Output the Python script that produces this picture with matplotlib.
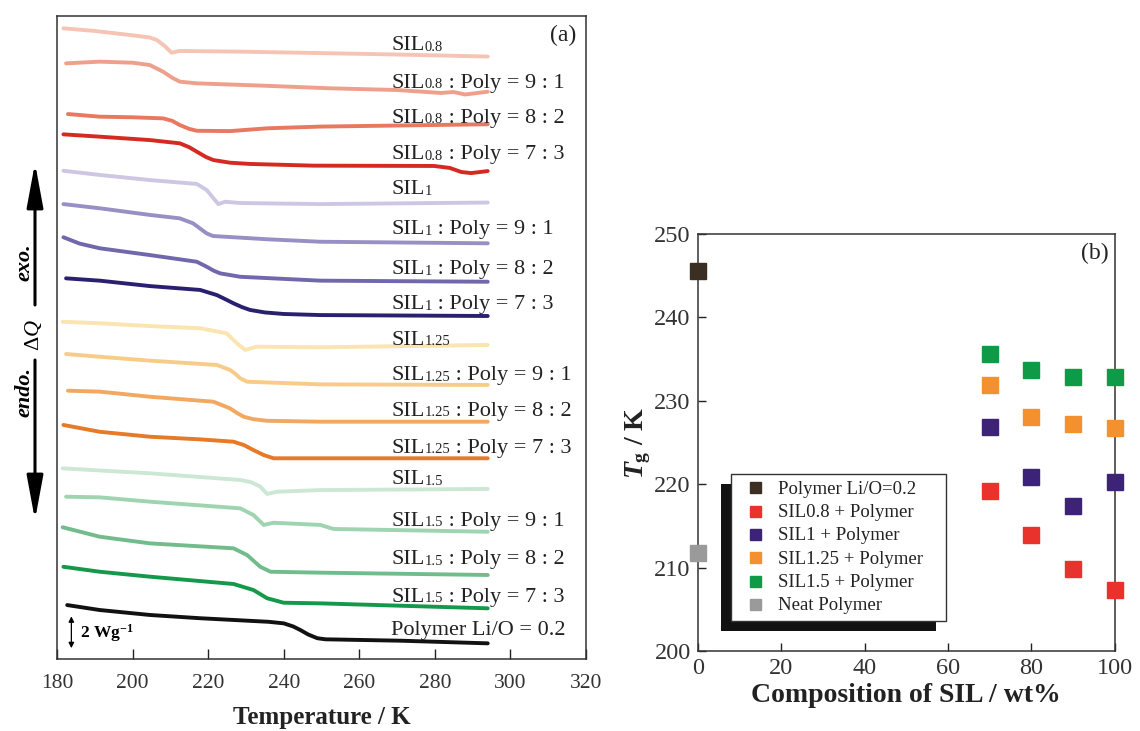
import numpy as np
import matplotlib
matplotlib.use('Agg')
import matplotlib.pyplot as plt
from matplotlib.patches import Rectangle
from matplotlib.transforms import IdentityTransform

plt.rcParams['font.family'] = ['Liberation Serif', 'DejaVu Serif']
plt.rcParams['mathtext.fontset'] = 'custom'
plt.rcParams['mathtext.rm'] = 'Liberation Serif'
plt.rcParams['mathtext.it'] = 'Liberation Serif:italic:bold'
plt.rcParams['mathtext.bf'] = 'Liberation Serif:bold'
plt.rcParams['mathtext.sf'] = 'Liberation Serif:italic'

# ---- panel (a): DSC traces, temperature / K vs stacked heat flow / W g-1 ----
t_s08 = [181.7, 190, 199.3, 204.5, 206.4, 208.5, 210.3, 212.5, 230, 252.4, 270, 294]
q_s08 = [40.69, 40.52, 40.26, 40.10, 39.94, 39.55, 39.12, 39.23, 39.18, 39.08, 39.00, 38.87]
t_s08_91 = [182.4, 191.3, 200.1, 204.6, 208.1, 210.5, 212.5, 217.0, 234.6, 252.4, 270, 281.6, 285, 288, 294]
q_s08_91 = [38.43, 38.54, 38.47, 38.32, 37.89, 37.50, 37.25, 37.14, 36.99, 36.82, 36.71, 36.52, 36.58, 36.42, 36.60]
t_s08_82 = [182.9, 191.3, 200.1, 208.1, 210.5, 212.5, 215.0, 217.0, 225.8, 235.7, 249.7, 294]
q_s08_82 = [35.16, 34.99, 34.95, 34.88, 34.72, 34.45, 34.20, 34.08, 34.06, 34.24, 34.35, 34.50]
t_s08_73 = [181.7, 191.3, 204.6, 212.5, 215.0, 217.0, 219.5, 221.4, 225.8, 231.1, 247.9, 279.8, 284, 287, 289.6, 294]
q_s08_73 = [33.85, 33.70, 33.48, 33.27, 33.02, 32.73, 32.38, 32.19, 32.02, 31.94, 31.83, 31.81, 31.68, 31.42, 31.35, 31.48]

t_s1 = [181.7, 191.3, 204.6, 217.0, 219.6, 222.7, 224.5, 228.5, 249.7, 294]
q_s1 = [31.50, 31.23, 30.90, 30.65, 30.26, 29.35, 29.50, 29.42, 29.35, 29.45]
t_s1_91 = [181.7, 191.3, 204.6, 212.5, 216.0, 218.0, 219.6, 221.3, 235.7, 249.7, 294]
q_s1_91 = [29.35, 29.08, 28.65, 28.43, 28.11, 27.75, 27.46, 27.29, 27.08, 26.92, 26.82]
t_s1_82 = [181.7, 186.0, 191.3, 204.6, 217.0, 219.6, 221.5, 223.2, 228.5, 249.7, 294]
q_s1_82 = [27.21, 26.80, 26.50, 26.06, 25.63, 25.31, 25.05, 24.88, 24.66, 24.41, 24.34]
t_s1_73 = [182.4, 191.3, 204.6, 217.9, 222.3, 224.5, 226.7, 229.0, 231.1, 235.0, 240.0, 249.7, 294]
q_s1_73 = [24.56, 24.41, 24.06, 23.81, 23.48, 23.22, 22.95, 22.70, 22.52, 22.36, 22.26, 22.19, 22.13]

t_s125 = [181.5, 191.3, 204.6, 217.9, 224.9, 227.6, 229.8, 232.9, 249.7, 294]
q_s125 = [21.76, 21.66, 21.48, 21.34, 21.01, 20.37, 19.94, 20.15, 20.11, 20.26]
t_s125_91 = [182.4, 191.3, 204.6, 222.3, 225.8, 227.2, 228.5, 230.3, 249.7, 294]
q_s125_91 = [19.68, 19.50, 19.25, 18.97, 18.65, 18.40, 18.11, 17.89, 17.72, 17.68]
t_s125_82 = [182.9, 191.3, 204.6, 221.4, 225.8, 227.6, 229.4, 232.0, 235.6, 249.7, 294]
q_s125_82 = [17.31, 17.25, 16.92, 16.60, 16.17, 15.88, 15.63, 15.47, 15.37, 15.31, 15.31]
t_s125_73 = [181.7, 191.3, 204.6, 217.9, 226.7, 229.5, 232.0, 234.8, 237.3, 249.7, 294]
q_s125_73 = [15.10, 14.66, 14.34, 14.17, 14.02, 13.80, 13.48, 13.15, 12.95, 12.95, 12.95]

t_s15 = [181.5, 204.6, 228.5, 231.5, 233.8, 235.6, 238.2, 249.7, 294]
q_s15 = [12.30, 11.98, 11.55, 11.40, 11.12, 10.65, 10.79, 10.90, 10.97]
t_s15_91 = [182.4, 191.3, 204.6, 228.5, 232.0, 234.7, 237.3, 249.7, 253.2, 294]
q_s15_91 = [10.47, 10.43, 10.15, 9.72, 9.29, 8.65, 8.79, 8.65, 8.39, 8.21]
t_s15_82 = [181.5, 191.3, 204.6, 226.7, 230.3, 233.8, 236.5, 249.7, 294]
q_s15_82 = [8.50, 7.89, 7.46, 7.14, 6.71, 5.95, 5.63, 5.57, 5.42]
t_s15_73 = [181.7, 191.3, 204.6, 226.7, 232.0, 235.6, 240.0, 249.7, 294]
q_s15_73 = [5.95, 5.63, 5.31, 4.84, 4.45, 3.92, 3.63, 3.59, 3.27]

t_poly = [182.7, 191.3, 204.6, 217.9, 236.0, 240.0, 242.5, 244.4, 246.5, 248.9, 251.1, 271.0, 294]
q_poly = [3.48, 3.16, 2.84, 2.63, 2.40, 2.30, 2.10, 1.87, 1.58, 1.34, 1.27, 1.18, 1.01]

curves = [(t_s08, q_s08), (t_s08_91, q_s08_91), (t_s08_82, q_s08_82), (t_s08_73, q_s08_73),
          (t_s1, q_s1), (t_s1_91, q_s1_91), (t_s1_82, q_s1_82), (t_s1_73, q_s1_73),
          (t_s125, q_s125), (t_s125_91, q_s125_91), (t_s125_82, q_s125_82), (t_s125_73, q_s125_73),
          (t_s15, q_s15), (t_s15_91, q_s15_91), (t_s15_82, q_s15_82), (t_s15_73, q_s15_73),
          (t_poly, q_poly)]
colors_a = ['#f5c4b4', '#eea08c', '#e87860', '#d42a22',
            '#cdc7e3', '#9890c4', '#7068ac', '#2a2070',
            '#fae4b0', '#f8cc88', '#f2a860', '#e67a28',
            '#cce8d4', '#9ed4b0', '#72bc8c', '#14984a',
            '#111111']
sil_sub = ['0.8'] * 4 + ['1'] * 4 + ['1.25'] * 4 + ['1.5'] * 4
ratios = ['', ' : Poly = 9 : 1', ' : Poly = 8 : 2', ' : Poly = 7 : 3'] * 4
label_y = [39.26, 36.87, 34.61, 32.23, 29.97, 27.39, 24.81, 22.55, 20.29,
           17.97, 15.71, 13.32, 11.26, 8.61, 6.10, 3.65, 1.52]

# ---- panel (b): Tg vs composition ----
comp = [70, 80, 90, 100]
tg_sil08 = [219.2, 213.9, 209.8, 207.3]
tg_sil1 = [226.9, 220.9, 217.4, 220.3]
tg_sil125 = [231.9, 228.0, 227.2, 226.7]
tg_sil15 = [235.6, 233.7, 232.8, 232.8]
tg_polymer = 245.6
tg_neat = 211.8

fig = plt.figure(figsize=(11.4, 7.31), dpi=100)
ax1 = fig.add_axes([0.050, 0.0985, 0.464, 0.8795])
ax2 = fig.add_axes([0.612, 0.1094, 0.366, 0.5706])

txt = '#222222'
for (t, q), c in zip(curves, colors_a):
    ax1.plot(t, q, color=c, lw=2.8, solid_capstyle='round', solid_joinstyle='round')

xl = 268.5
for y, sub, rest in zip(label_y, sil_sub, ratios):
    t1 = ax1.text(xl, y, 'SIL', fontsize=16, va='baseline', color=txt)
    t2 = ax1.annotate(sub, xy=(1, 0), xycoords=t1, xytext=(0, 1.4), textcoords='offset points',
                      fontsize=10.5, va='bottom', color=txt)
    if rest:
        ax1.annotate(rest, xy=(1, 0), xycoords=t2, xytext=(0, -1.4), textcoords='offset points',
                     fontsize=16, va='bottom', color=txt)
ax1.text(xl, label_y[-1], 'Polymer Li/O = 0.2', fontsize=16, va='baseline', color=txt)

ax1.annotate('', xy=(183.8, 0.7), xytext=(183.8, 2.75),
             arrowprops=dict(arrowstyle='<|-|>', lw=0.9, color='k', mutation_scale=8,
                             shrinkA=0, shrinkB=0))
ax1.text(186.2, 1.65, r'2 Wg$^{\mathbf{-1}}$', fontsize=12.5, fontweight='bold', va='center')
ax1.text(0.957, 0.970, '(a)', transform=ax1.transAxes, fontsize=17, ha='center', va='center',
         color=txt)

ax1.set_xlim(180, 320)
ax1.set_ylim(0, 41.48)
ax1.set_xticks(np.arange(180, 321, 20))
ax1.tick_params(axis='x', direction='in', length=7, width=1, labelsize=15.5, pad=11, top=False,
                colors='#222', labelcolor='#333')
ax1.tick_params(axis='y', left=False, labelleft=False)
ax1.set_xlabel('Temperature / K', fontsize=18, fontweight='bold', labelpad=9.5, color='#222')
for s in ax1.spines.values():
    s.set_linewidth(1.1)
    s.set_color('#333')

# exo / endo arrows at the left edge
ax1.annotate('', xy=(35, 731 - 163), xytext=(35, 731 - 305), xycoords='figure pixels',
             textcoords='figure pixels', annotation_clip=False,
             arrowprops=dict(arrowstyle='-|>,head_length=2.7,head_width=0.5', lw=2.2, color='k',
                             mutation_scale=10, shrinkA=0, shrinkB=0))
ax1.annotate('', xy=(35, 731 - 520), xytext=(35, 731 - 360), xycoords='figure pixels',
             textcoords='figure pixels', annotation_clip=False,
             arrowprops=dict(arrowstyle='-|>,head_length=2.7,head_width=0.5', lw=2.2, color='k',
                             mutation_scale=10, shrinkA=0, shrinkB=0))
fig.text(24 / 1140, 1 - 262 / 731, 'exo.', rotation=90, fontsize=16, style='italic',
         fontweight='bold', ha='center', va='center')
fig.text(24 / 1140, 1 - 392 / 731, 'endo.', rotation=90, fontsize=16, style='italic',
         fontweight='bold', ha='center', va='center')
fig.text(34 / 1140, 1 - 335 / 731, r'$\Delta\mathsf{Q}$', rotation=90, fontsize=16,
         ha='center', va='center')

# ---- panel (b) ----
ax2.patch.set_facecolor('none')
ms = 11
ax2.plot([0], [tg_polymer], 's', color='#3b2f24', ms=ms, label='Polymer Li/O=0.2', clip_on=False, zorder=3)
ax2.plot(comp, tg_sil08, 's', color='#e8322b', ms=ms, label='SIL0.8 + Polymer', clip_on=False, zorder=3)
ax2.plot(comp, tg_sil1, 's', color='#3c2378', ms=ms, label='SIL1 + Polymer', clip_on=False, zorder=3)
ax2.plot(comp, tg_sil125, 's', color='#f39130', ms=ms, label='SIL1.25 + Polymer', clip_on=False, zorder=3)
ax2.plot(comp, tg_sil15, 's', color='#0e9a46', ms=ms, label='SIL1.5 + Polymer', clip_on=False, zorder=3)
ax2.plot([0], [tg_neat], 's', color='#9a9a9a', ms=ms, label='Neat Polymer', clip_on=False, zorder=3)

ax2.set_xlim(0, 100)
ax2.set_ylim(200, 250)
ax2.set_xticks(np.arange(0, 101, 20))
ax2.set_yticks(np.arange(200, 251, 10))
ax2.tick_params(direction='in', length=6, width=1, labelsize=17.5, pad=5, colors='#222',
                labelcolor='#333')
ax2.set_xlabel('Composition of SIL / wt%', fontsize=20, fontweight='bold', labelpad=3, color='#222')
ax2.set_ylabel(r'$T_{\mathbf{g}}$ / K', fontsize=20, fontweight='bold', labelpad=1, color='#222')
for s in ax2.spines.values():
    s.set_linewidth(1.1)
    s.set_color('#333')
ax2.text(0.952, 0.954, '(b)', transform=ax2.transAxes, fontsize=17, ha='center', va='center',
         color=txt)

leg = ax2.legend(loc='upper left', bbox_to_anchor=(0.079, 0.07, 0.516, 0.354), mode='expand',
                 borderaxespad=0, fontsize=13.5, markerscale=0.72, handlelength=1.85,
                 handletextpad=0.3, labelspacing=0.33, borderpad=0.35, fancybox=False,
                 framealpha=1, edgecolor='#333')
leg.get_frame().set_linewidth(1.0)
for t in leg.get_texts():
    t.set_color(txt)

fig.canvas.draw()
bb = leg.get_window_extent(fig.canvas.get_renderer())
ax2.add_patch(Rectangle((bb.x0 - 10, bb.y0 - 10), bb.width, bb.height, transform=IdentityTransform(),
                        facecolor='#111', edgecolor='none', zorder=4))

fig.savefig('out.png', dpi=100)
